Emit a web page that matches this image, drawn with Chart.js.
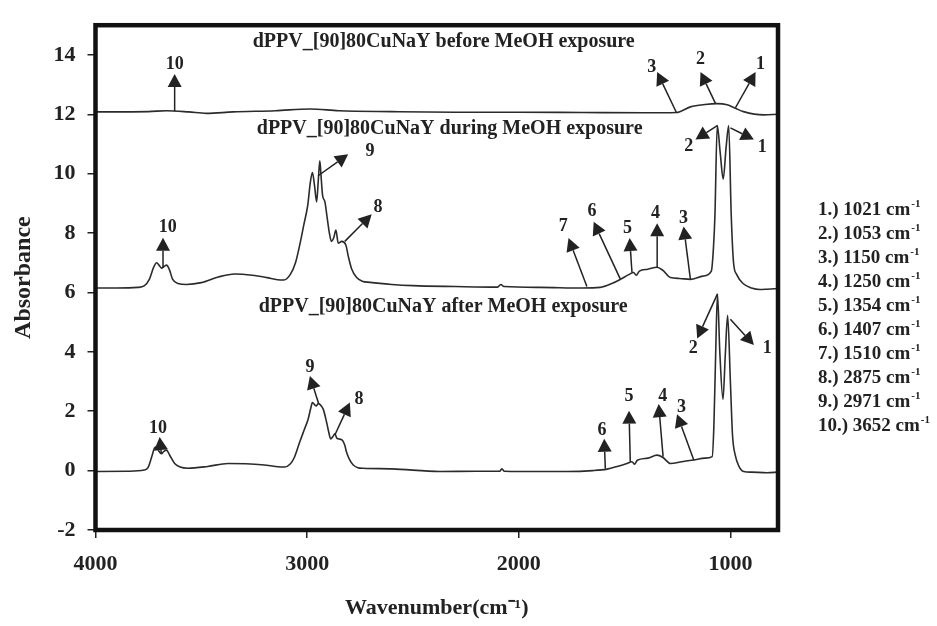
<!DOCTYPE html>
<html>
<head>
<meta charset="utf-8">
<script src="https://cdn.jsdelivr.net/npm/chart.js@4.4.1/dist/chart.umd.min.js"></script>
<style>
html, body { margin: 0; padding: 0; background: #fff; }
#wrap { width: 937px; height: 626px; }
</style>
</head>
<body>
<div id="wrap"><canvas id="irChart" width="937" height="626"></canvas></div>
<script>
// spectra (wavenumber, absorbance)
var wnBefore  = [4000, 3750, 3665, 3560, 3476, 3350, 3150, 2987, 2850, 2600, 2300, 2000, 1700, 1400, 1255, 1189, 1120, 1063, 1015, 976, 938, 843, 775];
var absBefore = [12.08, 12.09, 12.12, 12.08, 12.03, 12.08, 12.12, 12.18, 12.12, 12.09, 12.07, 12.07, 12.06, 12.05, 12.06, 12.25, 12.33, 12.36, 12.32, 12.2, 12.09, 11.98, 12.0];

var wnDuring  = [4000, 3900, 3800, 3770, 3745, 3725, 3711, 3700, 3688, 3675, 3664, 3650, 3636, 3610, 3570, 3500, 3420, 3342, 3260, 3190, 3140, 3110, 3080, 3055, 3035, 3015, 2997, 2985, 2975, 2965, 2955, 2947, 2940, 2934, 2927, 2916, 2905, 2896, 2885, 2874, 2864, 2853, 2837, 2817, 2805, 2790, 2766, 2740, 2703, 2600, 2500, 2300, 2100, 2085, 2070, 1900, 1700, 1615, 1560, 1520, 1480, 1457, 1445, 1430, 1390, 1347, 1320, 1283, 1240, 1189, 1130, 1090, 1080, 1073, 1062, 1048, 1034, 1020, 1008, 996, 985, 970, 940, 900, 860, 827, 775];
var absDuring = [6.15, 6.15, 6.17, 6.22, 6.45, 6.85, 7.0, 6.92, 6.82, 6.88, 6.92, 6.75, 6.45, 6.3, 6.27, 6.33, 6.52, 6.62, 6.58, 6.5, 6.43, 6.42, 6.6, 7.0, 7.6, 8.3, 8.94, 9.7, 10.04, 9.6, 9.05, 9.8, 10.43, 9.9, 9.27, 9.05, 8.5, 8.05, 7.72, 7.85, 8.1, 7.66, 7.72, 7.6, 7.2, 6.8, 6.5, 6.38, 6.34, 6.27, 6.23, 6.2, 6.18, 6.27, 6.2, 6.17, 6.15, 6.17, 6.3, 6.44, 6.6, 6.67, 6.58, 6.72, 6.78, 6.85, 6.75, 6.5, 6.47, 6.44, 6.55, 6.72, 7.5, 8.6, 11.62, 10.7, 9.82, 10.9, 11.62, 8.6, 7.0, 6.6, 6.3, 6.15, 6.1, 6.11, 6.13];

var wnAfter  = [4000, 3850, 3770, 3752, 3735, 3722, 3713, 3700, 3689, 3677, 3665, 3648, 3626, 3600, 3563, 3470, 3374, 3290, 3216, 3150, 3106, 3080, 3060, 3035, 3015, 2995, 2983, 2975, 2962, 2956, 2948, 2940, 2924, 2908, 2898, 2889, 2878, 2869, 2860, 2853, 2833, 2822, 2814, 2800, 2782, 2760, 2735, 2600, 2372, 2200, 2090, 2080, 2068, 1900, 1773, 1650, 1583, 1530, 1489, 1465, 1452, 1440, 1390, 1347, 1320, 1283, 1230, 1173, 1120, 1086, 1078, 1070, 1061, 1050, 1035, 1024, 1013, 1000, 990, 977, 960, 937, 900, 827, 775];
var absAfter = [-0.03, -0.02, 0.02, 0.1, 0.45, 0.75, 0.8, 0.65, 0.57, 0.65, 0.69, 0.5, 0.24, 0.12, 0.08, 0.14, 0.24, 0.23, 0.2, 0.14, 0.12, 0.22, 0.45, 0.96, 1.35, 1.74, 2.1, 2.29, 2.2, 2.18, 2.26, 2.23, 2.07, 1.63, 1.3, 1.07, 1.15, 1.24, 1.1, 1.07, 1.02, 0.85, 0.63, 0.38, 0.19, 0.1, 0.08, 0.06, -0.03, -0.02, -0.02, 0.06, -0.02, -0.03, -0.03, 0.0, 0.05, 0.15, 0.24, 0.3, 0.22, 0.35, 0.42, 0.52, 0.45, 0.24, 0.3, 0.36, 0.42, 0.47, 1.5, 3.8, 5.95, 4.0, 2.4, 3.9, 5.23, 3.0, 1.2, 0.52, 0.15, -0.03, -0.05, -0.07, -0.05];

var xTicks = [4000, 3000, 2000, 1000];
var yTicks = [-2, 0, 2, 4, 6, 8, 10, 12, 14];

var traceTitles = [
    "dPPV_[90]80CuNaY before MeOH exposure",
    "dPPV_[90]80CuNaY during MeOH exposure",
    "dPPV_[90]80CuNaY after MeOH exposure"
];
// where each title starts: wavenumber, absorbance of baseline
var titleWn = [3257, 3238, 3229];
var titleAbs = [14.25, 11.33, 5.35];

var peakNums = ["1", "2", "3", "4", "5", "6", "7", "8", "9", "10"];
var peakWn = [1021, 1053, 1150, 1250, 1354, 1407, 1510, 2875, 2971, 3652];

// arrows: label, tail wn, tail abs, tip wn, tip abs, label wn, label abs
var arrowsBefore = [
    ["10", 3626, 12.1, 3626, 13.36, 3626, 13.68],
    ["3", 1255, 12.06, 1346, 13.42, 1372, 13.58],
    ["2", 1070, 12.36, 1141, 13.42, 1141, 13.85],
    ["1", 976, 12.22, 881, 13.42, 858, 13.69]
];
var arrowsDuring = [
    ["10", 3681, 6.84, 3681, 7.84, 3659, 8.2],
    ["9", 2948, 9.93, 2806, 10.65, 2703, 10.76],
    ["8", 2822, 7.72, 2695, 8.63, 2665, 8.88],
    ["7", 1678, 6.2, 1765, 7.83, 1790, 8.22],
    ["6", 1520, 6.45, 1646, 8.38, 1654, 8.74],
    ["5", 1465, 6.67, 1476, 7.83, 1486, 8.16],
    ["4", 1346, 6.85, 1346, 8.33, 1354, 8.66],
    ["3", 1189, 6.45, 1221, 8.22, 1221, 8.5],
    ["2", 1062, 11.62, 1165, 11.15, 1197, 10.93],
    ["1", 1000, 11.54, 889, 11.15, 850, 10.87]
];
var arrowsAfter = [
    ["10", 3689, 0.57, 3697, 1.13, 3705, 1.44],
    ["9", 2945, 2.24, 2987, 3.19, 2987, 3.49],
    ["8", 2869, 1.2, 2798, 2.29, 2755, 2.39],
    ["6", 1591, 0.06, 1596, 1.07, 1607, 1.35],
    ["5", 1473, 0.3, 1479, 2.02, 1479, 2.51],
    ["4", 1318, 0.47, 1339, 2.24, 1320, 2.51],
    ["3", 1173, 0.36, 1252, 1.9, 1231, 2.13],
    ["2", 1061, 5.95, 1157, 4.45, 1176, 4.12],
    ["1", 1000, 5.1, 889, 4.23, 826, 4.12]
];

var SERIF = '"Liberation Serif", "Times New Roman", serif';
var INK = "#222";

function toPoints(wn, abs) {
    var pts = [];
    for (var i = 0; i < wn.length; i++) {
        pts.push({ x: wn[i], y: abs[i] });
    }
    return pts;
}

function drawArrow(ctx, x0, y0, x1, y1) {
    var ang = Math.atan2(y1 - y0, x1 - x0);
    var len = 13, hw = 7;
    var bx = x1 - len * Math.cos(ang), by = y1 - len * Math.sin(ang);
    ctx.beginPath();
    ctx.moveTo(x0, y0);
    ctx.lineTo(bx, by);
    ctx.stroke();
    ctx.beginPath();
    ctx.moveTo(x1, y1);
    ctx.lineTo(bx + hw * Math.sin(ang), by - hw * Math.cos(ang));
    ctx.lineTo(bx - hw * Math.sin(ang), by + hw * Math.cos(ang));
    ctx.closePath();
    ctx.fill();
}

var notesPlugin = {
    id: "notes",
    afterDatasetsDraw: function (chart) {
        var ctx = chart.ctx;
        var xs = chart.scales.x, ys = chart.scales.y;
        var area = chart.chartArea;
        ctx.save();

        // trace titles
        ctx.fillStyle = INK;
        ctx.font = "bold 20px " + SERIF;
        ctx.textAlign = "left";
        ctx.textBaseline = "alphabetic";
        for (var t = 0; t < traceTitles.length; t++) {
            ctx.fillText(traceTitles[t], xs.getPixelForValue(titleWn[t]), ys.getPixelForValue(titleAbs[t]));
        }

        // arrows with peak numbers
        ctx.strokeStyle = INK;
        ctx.lineWidth = 1.5;
        ctx.font = "bold 18px " + SERIF;
        ctx.textAlign = "center";
        ctx.textBaseline = "middle";
        [arrowsBefore, arrowsDuring, arrowsAfter].forEach(function (list) {
            list.forEach(function (a) {
                drawArrow(ctx,
                    xs.getPixelForValue(a[1]), ys.getPixelForValue(a[2]),
                    xs.getPixelForValue(a[3]), ys.getPixelForValue(a[4]));
                ctx.fillText(a[0], xs.getPixelForValue(a[5]), ys.getPixelForValue(a[6]));
            });
        });

        // thick frame
        ctx.strokeStyle = "#111";
        ctx.lineWidth = 4.5;
        ctx.strokeRect(area.left, area.top, area.right - area.left, area.bottom - area.top);

        // peak list at the right
        ctx.textAlign = "left";
        ctx.textBaseline = "alphabetic";
        for (var i = 0; i < peakNums.length; i++) {
            var y = 215 + 24 * i;
            var txt = peakNums[i] + ".) " + peakWn[i] + " cm";
            ctx.font = "bold 19px " + SERIF;
            ctx.fillText(txt, 818, y);
            var w = ctx.measureText(txt).width;
            ctx.font = "bold 11px " + SERIF;
            ctx.fillText("-1", 818 + w + 1, y - 8);
        }
        ctx.restore();
    }
};

function lineSet(label, wn, abs) {
    return {
        label: label,
        data: toPoints(wn, abs),
        borderColor: "#2b2b2b",
        borderWidth: 1.6,
        pointRadius: 0,
        fill: false,
        tension: 0.25,
        cubicInterpolationMode: "monotone"
    };
}

function plainTick(v) { return String(v); }

var ctx = document.getElementById("irChart").getContext("2d");
new Chart(ctx, {
    type: "line",
    data: {
        datasets: [
            lineSet("before", wnBefore, absBefore),
            lineSet("during", wnDuring, absDuring),
            lineSet("after", wnAfter, absAfter)
        ]
    },
    options: {
        responsive: false,
        animation: false,
        devicePixelRatio: 1,
        layout: { padding: { left: 0, right: 159, top: 17.5, bottom: 0 } },
        plugins: {
            legend: { display: false },
            tooltip: { enabled: false }
        },
        scales: {
            x: {
                type: "linear",
                reverse: true,
                min: 775,
                max: 4000,
                afterBuildTicks: function (s) {
                    s.ticks = xTicks.map(function (v) { return { value: v }; });
                },
                afterFit: function (s) { s.height = 96; },
                grid: { drawOnChartArea: false, drawTicks: true, tickLength: 8, color: INK, lineWidth: 1.5 },
                border: { display: false },
                ticks: {
                    color: INK,
                    padding: 13,
                    maxRotation: 0,
                    callback: plainTick,
                    font: { family: SERIF, size: 22, weight: "bold" }
                },
                title: {
                    display: true,
                    text: "Wavenumber(cm\u207B\u00B9)",
                    color: INK,
                    padding: { top: 0, bottom: 4 },
                    font: { family: SERIF, size: 22, weight: "bold" }
                }
            },
            y: {
                min: -2,
                max: 15,
                afterBuildTicks: function (s) {
                    s.ticks = yTicks.map(function (v) { return { value: v }; });
                },
                afterFit: function (s) { s.width = 95.5; },
                grid: { drawOnChartArea: false, drawTicks: true, tickLength: 8, color: INK, lineWidth: 1.5 },
                border: { display: false },
                ticks: {
                    color: INK,
                    padding: 12,
                    callback: plainTick,
                    font: { family: SERIF, size: 22, weight: "bold" }
                },
                title: {
                    display: true,
                    text: "Absorbance",
                    color: INK,
                    padding: { top: 9, bottom: 0 },
                    font: { family: SERIF, size: 24, weight: "bold" }
                }
            }
        }
    },
    plugins: [notesPlugin]
});
</script>
</body>
</html>
